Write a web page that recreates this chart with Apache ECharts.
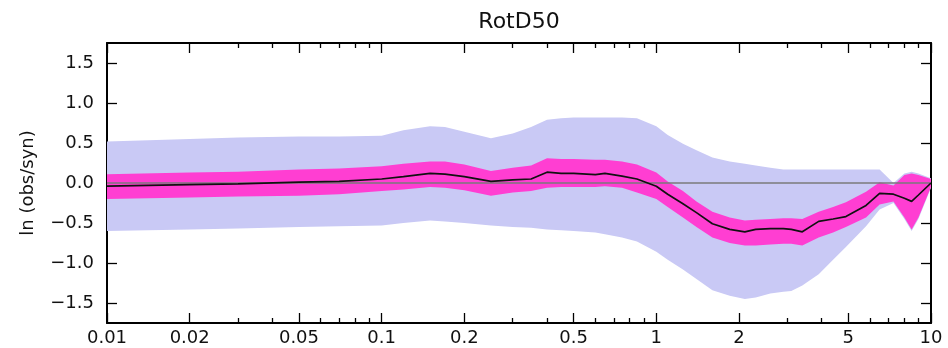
<!DOCTYPE html>
<html>
<head>
<meta charset="utf-8">
<script src="https://cdn.jsdelivr.net/npm/echarts@6/dist/echarts.min.js"></script>
<style>
  html, body { margin: 0; padding: 0; background: #fff; }
  #chart { width: 948px; height: 348px; }
</style>
</head>
<body>
<div id="chart"></div>
<script>
// Oscillator periods (s)
const periods = [0.01, 0.02, 0.03, 0.05, 0.07, 0.1, 0.12, 0.15, 0.17, 0.2, 0.25, 0.3, 0.35, 0.4, 0.45,
  0.5, 0.6, 0.65, 0.75, 0.85, 1.0, 1.1, 1.25, 1.4, 1.6, 1.85, 2.1, 2.3, 2.6, 2.9, 3.1, 3.4, 3.9,
  4.4, 4.9, 5.8, 6.5, 7.3, 8.0, 8.5, 9.0, 10];

// Mean residual ln(obs/syn)
const meanResid = [-0.04, -0.02, -0.01, 0.01, 0.02, 0.05, 0.08, 0.12, 0.11, 0.08, 0.02, 0.04, 0.05, 0.135, 0.12,
  0.12, 0.105, 0.12, 0.085, 0.05, -0.04, -0.14, -0.26, -0.37, -0.51, -0.58, -0.61, -0.58, -0.57, -0.57, -0.58, -0.61, -0.48,
  -0.45, -0.42, -0.28, -0.13, -0.14, -0.19, -0.23, -0.15, 0.0];

// Confidence band of the mean (magenta)
const innerLower = [-0.20, -0.18, -0.17, -0.16, -0.14, -0.10, -0.08, -0.05, -0.06, -0.09, -0.16, -0.12, -0.10, -0.06, -0.05,
  -0.05, -0.05, -0.04, -0.06, -0.12, -0.20, -0.30, -0.43, -0.55, -0.68, -0.75, -0.78, -0.78, -0.77, -0.76, -0.76, -0.78, -0.68,
  -0.62, -0.55, -0.43, -0.27, -0.23, -0.43, -0.58, -0.43, -0.05];
const innerUpper = [0.11, 0.13, 0.14, 0.17, 0.18, 0.21, 0.24, 0.27, 0.27, 0.23, 0.15, 0.19, 0.22, 0.31, 0.30,
  0.30, 0.29, 0.29, 0.27, 0.23, 0.13, 0.02, -0.10, -0.23, -0.36, -0.43, -0.47, -0.46, -0.45, -0.44, -0.44, -0.45, -0.36,
  -0.30, -0.24, -0.11, 0.01, -0.03, 0.10, 0.12, 0.10, 0.05];

// One standard deviation band (lavender)
const outerLower = [-0.60, -0.58, -0.57, -0.55, -0.54, -0.53, -0.50, -0.47, -0.48, -0.50, -0.53, -0.55, -0.56, -0.58, -0.59,
  -0.60, -0.62, -0.64, -0.68, -0.73, -0.86, -0.96, -1.08, -1.20, -1.34, -1.41, -1.45, -1.43, -1.38, -1.36, -1.35, -1.28, -1.14,
  -0.96, -0.80, -0.54, -0.33, -0.25, -0.45, -0.60, -0.45, -0.06];
const outerUpper = [0.52, 0.55, 0.57, 0.58, 0.58, 0.59, 0.66, 0.71, 0.70, 0.64, 0.56, 0.62, 0.70, 0.79, 0.81,
  0.82, 0.82, 0.82, 0.82, 0.81, 0.71, 0.60, 0.49, 0.41, 0.32, 0.27, 0.24, 0.22, 0.19, 0.17, 0.17, 0.17, 0.17,
  0.17, 0.17, 0.17, 0.17, 0.0, 0.12, 0.14, 0.12, 0.06];

// Axis ticks
const xTickMajor = [0.01, 0.02, 0.05, 0.1, 0.2, 0.5, 1, 2, 5, 10];
const xTickMinor = [0.03, 0.04, 0.06, 0.07, 0.08, 0.09, 0.3, 0.4, 0.6, 0.7, 0.8, 0.9, 3, 4, 6, 7, 8, 9];
const yTicks = [-1.5, -1.0, -0.5, 0.0, 0.5, 1.0, 1.5];

const FONT = 'DejaVu Sans';
const INK = '#111';

const xMajorExp = xTickMajor.map(Math.log10);
const xMinorExp = xTickMinor.map(Math.log10);

function periodLabel(v) {
  const t = xTickMajor.find(p => Math.abs(Math.log10(p) - v) < 1e-9);
  return t === undefined ? '' : String(t);
}
function residLabel(v) {
  return (v < 0 ? '\u2212' : '') + Math.abs(v).toFixed(1);
}

// Tick-only axes in log10(period) space, laid over the log data axis
function tickAxis(position, exps, len, withLine, withLabels) {
  return {
    type: 'value', position, min: -2, max: 1,
    axisLine: { show: withLine, onZero: false, lineStyle: { color: '#000', width: 2 } },
    axisTick: { show: true, inside: true, length: len, customValues: exps, lineStyle: { color: '#000', width: 1.3 } },
    axisLabel: withLabels ? {
      show: true, customValues: exps, formatter: periodLabel, margin: 6,
      fontFamily: FONT, fontSize: 18, color: INK, showMinLabel: true, showMaxLabel: true
    } : { show: false },
    splitLine: { show: false }
  };
}

function yAxis(position, withLabels) {
  const ax = {
    type: 'value', position, min: -1.75, max: 1.75,
    axisLine: { show: true, onZero: false, lineStyle: { color: '#000', width: 2 } },
    axisTick: { show: true, inside: true, length: 10, customValues: yTicks, lineStyle: { color: '#000', width: 1.3 } },
    axisLabel: withLabels ? {
      show: true, customValues: yTicks, formatter: residLabel, margin: 13,
      fontFamily: FONT, fontSize: 18, color: INK
    } : { show: false },
    splitLine: { show: false }
  };
  if (withLabels) {
    ax.name = 'ln (obs/syn)';
    ax.nameLocation = 'middle';
    ax.nameRotate = 90;
    ax.nameGap = 70;
    ax.nameTextStyle = { fontFamily: FONT, fontSize: 18, color: INK };
  }
  return ax;
}

function bandSeries(name, lower, upper, color, z) {
  return {
    type: 'custom', name, xAxisIndex: 0, yAxisIndex: 0, silent: true, z, clip: true,
    data: periods.map((t, i) => [t, lower[i], upper[i]]),
    encode: { x: 0, y: [1, 2] },
    renderItem(params, api) {
      if (params.dataIndex !== 0) return null;
      const pts = [];
      for (let i = 0; i < periods.length; i++) pts.push(api.coord([periods[i], upper[i]]));
      for (let i = periods.length - 1; i >= 0; i--) pts.push(api.coord([periods[i], lower[i]]));
      return { type: 'polygon', shape: { points: pts }, style: { fill: color, stroke: null } };
    }
  };
}

const chart = echarts.init(document.getElementById('chart'), null, { renderer: 'canvas' });
chart.setOption({
  animation: false,
  backgroundColor: '#fff',
  title: {
    text: 'RotD50', left: 514, top: 6, textAlign: 'center',
    textStyle: { fontFamily: FONT, fontSize: 22, fontWeight: 'normal', color: INK }
  },
  grid: { left: 107, right: 17, top: 43, bottom: 25, containLabel: false, outerBoundsMode: 'none' },
  xAxis: [
    {
      type: 'log', logBase: 10, min: 0.01, max: 10,
      axisLine: { show: false, onZero: false }, axisTick: { show: false },
      axisLabel: { show: false }, splitLine: { show: false }
    },
    tickAxis('bottom', xMajorExp, 10, true, true),
    tickAxis('bottom', xMinorExp, 5, false, false),
    tickAxis('top', xMajorExp, 10, true, false),
    tickAxis('top', xMinorExp, 5, false, false)
  ],
  yAxis: [yAxis('left', true), yAxis('right', false)],
  series: [
    bandSeries('sigma', outerLower, outerUpper, '#c9c9f5', 1),
    bandSeries('mean range', innerLower, innerUpper, '#ff3ed2', 2),
    {
      // zero reference line
      type: 'line', name: 'zero', xAxisIndex: 0, yAxisIndex: 0, z: 8,
      data: [], silent: true,
      markLine: {
        silent: true, symbol: 'none', z: 8, animation: false,
        label: { show: false },
        lineStyle: { color: '#7a7a7a', width: 1.5, type: 'solid' },
        data: [{ yAxis: 0 }]
      }
    },
    {
      type: 'line', name: 'mean', xAxisIndex: 0, yAxisIndex: 0, z: 10,
      data: periods.map((t, i) => [t, meanResid[i]]),
      symbol: 'none', silent: true,
      lineStyle: { color: INK, width: 1.7 }
    }
  ]
});
</script>
</body>
</html>
